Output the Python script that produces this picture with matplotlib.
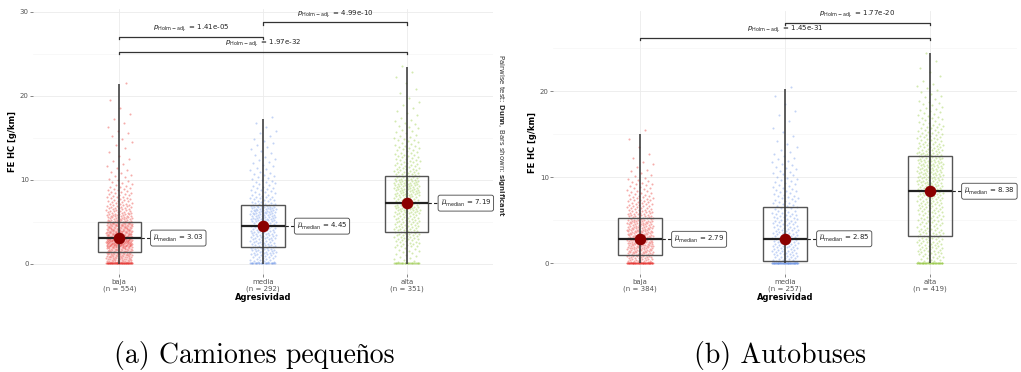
import numpy as np
import matplotlib
matplotlib.use("Agg")
import matplotlib.pyplot as plt
from matplotlib.patches import Rectangle

# ---------------- data ----------------
categories = ["baja", "media", "alta"]
n_left = [554, 292, 351]
n_right = [384, 257, 419]

# box stats: q1, median, q3, whisker high (whisker low = 0)
left_q1 = [1.39, 1.94, 3.77]
left_med = [3.03, 4.45, 7.19]
left_q3 = [4.92, 6.99, 10.40]
left_whi = [21.4, 17.2, 23.45]

right_q1 = [1.00, 0.23, 3.17]
right_med = [2.79, 2.85, 8.38]
right_q3 = [5.23, 6.55, 12.45]
right_whi = [15.0, 20.3, 24.4]

# point counts: first entry = points at zero, then per 1 g/km bin (0-1, 1-2, ...)
left_counts = [
    [55, 55, 60, 105, 75, 65, 40, 28, 19, 15, 9, 6, 4, 3, 2, 3, 3, 2, 2, 1, 1, 0, 1],
    [25, 20, 28, 25, 28, 20, 35, 38, 18, 12, 10, 8, 6, 5, 4, 4, 3, 2, 1],
    [30, 8, 10, 18, 22, 22, 22, 30, 20, 32, 32, 22, 18, 15, 12, 10, 7, 6, 4, 3, 2, 2, 1, 2, 1],
]
right_counts = [
    [60, 36, 45, 52, 45, 42, 30, 22, 18, 12, 9, 5, 3, 2, 1, 1, 1],
    [60, 20, 22, 24, 20, 18, 16, 12, 12, 10, 8, 7, 6, 5, 3, 2, 2, 1, 2, 1, 1, 1],
    [45, 15, 20, 20, 20, 16, 18, 20, 22, 24, 26, 28, 28, 26, 20, 16, 14, 10, 9, 7, 5, 4, 2, 2, 1, 1],
]

# pairwise brackets: (i, j, y, label)
left_pairs = [(0, 1, 27.0, "1.41e-05"), (1, 2, 28.7, "4.99e-10"), (0, 2, 25.2, "1.97e-32")]
right_pairs = [(1, 2, 28.0, "1.77e-20"), (0, 2, 26.2, "1.45e-31")]

captions = ["(a) Camiones pequeños", "(b) Autobuses"]
ylabel = "FE HC [g/km]"
xlabel = "Agresividad"

colors = ["#E8302C", "#6A93E6", "#93C83A"]
GREY = "#555555"


def expand(counts):
    vals = [0.05] * counts[0]
    for b, c in enumerate(counts[1:]):
        vals += [b + (j + 0.5) / c for j in range(c)] if c else []
    return np.array(vals)


def panel(ax, ns, q1, med, q3, whi, counts, pairs, ylim, yticks):
    ax.set_xlim(0.4, 3.6)
    ax.set_ylim(*ylim)
    for s in ax.spines.values():
        s.set_visible(False)
    ax.set_yticks(yticks)
    ax.set_yticks([5, 15, 25], minor=True)
    ax.set_xticks([1, 2, 3])
    ax.set_xticklabels([f"{c}\n(n = {n})" for c, n in zip(categories, ns)],
                       fontsize=5, color=GREY, linespacing=1.0)
    ax.tick_params(axis="y", labelsize=5, labelcolor=GREY, length=2, width=0.5,
                   color=GREY, pad=1)
    ax.tick_params(axis="x", length=2, width=0.5, color=GREY, pad=2)
    ax.tick_params(which="minor", length=0)
    ax.grid(True, which="major", color="#EBEBEB", lw=0.6)
    ax.grid(True, which="minor", axis="y", color="#F3F3F3", lw=0.4)
    ax.set_axisbelow(True)
    ax.set_xlabel(xlabel, fontsize=6, fontweight="bold", labelpad=1)
    ax.set_ylabel(ylabel, fontsize=6, fontweight="bold", labelpad=2)

    for i in range(3):
        x0 = i + 1
        vals = expand(counts[i])
        k = np.arange(len(vals))
        jit = ((k * 0.6180339887) % 1 - 0.5) * 0.18
        ax.scatter(x0 + jit, vals, s=2.2, color=colors[i], alpha=0.4,
                   linewidths=0, zorder=2)
        ax.add_patch(Rectangle((x0 - 0.15, q1[i]), 0.3, q3[i] - q1[i], fill=False,
                               ec="#555555", lw=1.0, zorder=3))
        ax.vlines(x0, 0, whi[i], color="#333333", lw=1.1, zorder=4)
        ax.hlines(med[i], x0 - 0.15, x0 + 0.15, color="#222222", lw=1.6, zorder=4)
        ax.plot([x0 + 0.15, x0 + 0.23], [med[i], med[i]], ls=(0, (3, 2)),
                color="#222222", lw=0.8, zorder=4)
        ax.scatter([x0], [med[i]], s=70, color="#8B0000", zorder=5, linewidths=0)
        ax.text(x0 + 0.235, med[i], r"$\widehat{\mu}_{\mathrm{median}}$ = " + f"{med[i]:.2f}",
                ha="left", va="center", fontsize=5, color="#222222", zorder=6,
                bbox=dict(boxstyle="round,pad=0.35,rounding_size=0.3", fc="white",
                          ec="#444444", lw=0.6))

    for a, b, y, lab in pairs:
        ax.plot([a + 1, a + 1, b + 1, b + 1], [y - 0.25, y, y, y - 0.25],
                color="#333333", lw=0.9, zorder=3)
        ax.text((a + b) / 2 + 1, y + 0.35, r"$p_{\mathrm{Holm-adj.}}$ = " + lab,
                ha="center", va="bottom", fontsize=5, color="#222222")


fig = plt.figure(figsize=(10.21, 3.72), dpi=100)
axL = fig.add_axes([33 / 1021, 1 - 273.6 / 372, 460 / 1021, (273.6 - 9) / 372])
axR = fig.add_axes([553 / 1021, 1 - 273.6 / 372, 464 / 1021, (273.6 - 10.5) / 372])

panel(axL, n_left, left_q1, left_med, left_q3, left_whi, left_counts, left_pairs,
      (-1.2, 30.3), [0, 10, 20, 30])
panel(axR, n_right, right_q1, right_med, right_q3, right_whi, right_counts, right_pairs,
      (-1.2, 29.4), [0, 10, 20])

fig.text(501 / 1021, 1 - 135 / 372,
         r"Pairwise test: $\mathbf{Dunn}$, Bars shown: $\mathbf{significant}$",
         rotation=270, ha="center", va="center", fontsize=5, color="#333333")

cap_family = ["cmr10", "Liberation Serif", "DejaVu Serif"]
fig.text(254 / 1021, 1 - 355 / 372, captions[0], ha="center", va="center",
         fontsize=20, family=cap_family)
fig.text(780 / 1021, 1 - 355 / 372, captions[1], ha="center", va="center",
         fontsize=20, family=cap_family)

fig.savefig("out.png", dpi=100)
